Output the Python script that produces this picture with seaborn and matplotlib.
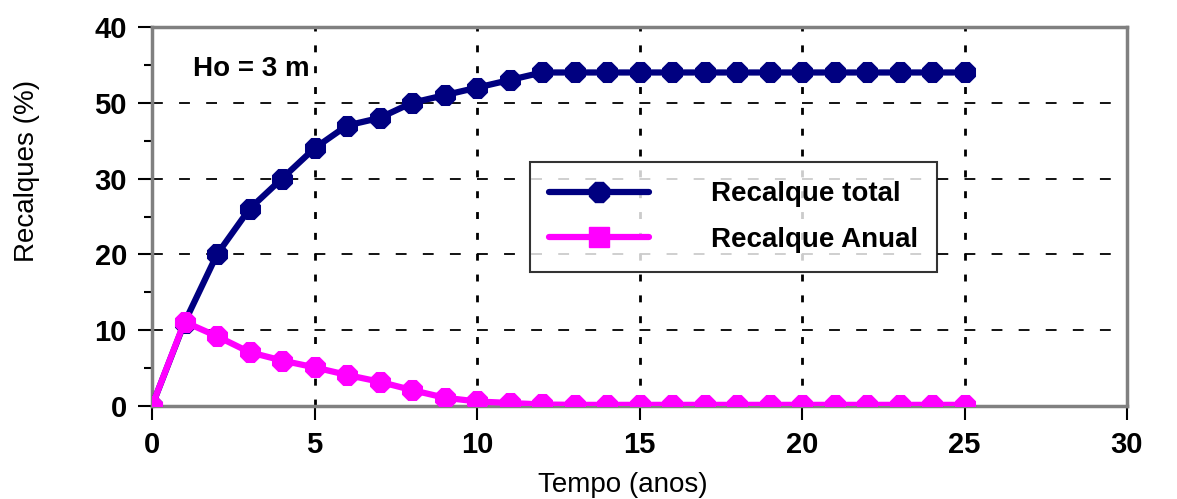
import matplotlib
matplotlib.use("Agg")
import matplotlib.pyplot as plt
import seaborn as sns
import pandas as pd
from matplotlib.ticker import MultipleLocator
from matplotlib.lines import Line2D

years = list(range(0, 26))
recalque_total = [0, 11, 20, 26, 30, 34, 37, 38, 40, 41, 42, 43, 44, 44, 44, 44, 44,
                  44, 44, 44, 44, 44, 44, 44, 44, 44]
recalque_anual = [0, 11.1, 9.2, 7.1, 6.0, 5.1, 4.1, 3.2, 2.1, 1.1, 0.6, 0.4, 0.2, 0.15,
                  0.15, 0.15, 0.15, 0.15, 0.15, 0.15, 0.15, 0.15, 0.15, 0.15, 0.15, 0.15]
y_ticks = [0, 10, 20, 30, 40, 50]
y_tick_labels = ["0", "10", "20", "30", "50", "40"]
x_ticks = [0, 5, 10, 15, 20, 25, 30]
x_tick_labels = ["0", "5", "10", "15", "20", "25", "30"]

sns.set_style("white")
plt.rcParams['font.family'] = ['Liberation Sans', 'DejaVu Sans']
plt.rcParams['text.color'] = 'black'
plt.rcParams['axes.labelcolor'] = 'black'
plt.rcParams['xtick.color'] = 'black'
plt.rcParams['ytick.color'] = 'black'

NAVY = "#000080"
MAG = "#FF00FF"

fig = plt.figure(figsize=(11.77, 4.99), dpi=100)
ax = fig.add_axes([152/1177, 1-406/499, (1127-152)/1177, (406-27)/499])

df = pd.DataFrame({"Tempo": years, "total": recalque_total, "anual": recalque_anual})

sns.lineplot(data=df, x="Tempo", y="total", ax=ax, color=NAVY, lw=4.5,
             marker="8", markersize=16, markeredgecolor=NAVY, zorder=4)
sns.lineplot(data=df, x="Tempo", y="anual", ax=ax, color=MAG, lw=4.5,
             marker="8", markersize=16, markeredgecolor=MAG, zorder=5)

ax.set_xlim(0, 30)
ax.set_ylim(0, 50)
ax.set_xticks(x_ticks)
ax.set_xticklabels(x_tick_labels, fontsize=21, fontweight="bold")
ax.set_yticks(y_ticks)
ax.set_yticklabels(y_tick_labels, fontsize=21, fontweight="bold")
ax.yaxis.set_minor_locator(MultipleLocator(5))
ax.tick_params(axis="both", which="major", direction="out", length=10, width=1.5,
               color="black", left=True, bottom=True, pad=8)
ax.tick_params(axis="y", which="minor", direction="out", length=6, width=1.5,
               color="black", left=True)

for y in [10, 20, 30, 40]:
    ax.axhline(y, color="black", lw=1.3, linestyle=(0, (6, 9)), zorder=1)
for x in [5, 10, 15, 20, 25]:
    ax.axvline(x, color="black", lw=2, linestyle=(0, (2.5, 5)), zorder=1)

for s in ax.spines.values():
    s.set_color("#808080")
    s.set_linewidth(2.5)
    s.set_visible(True)

ax.set_xlabel("Tempo (anos)", fontsize=20)
ax.set_ylabel("Recalques (%)", fontsize=20)
ax.xaxis.set_label_coords(0.483, -0.175)
ax.yaxis.set_label_coords(-0.115, 0.62)

ax.text(1.25, 44.5, "Ho = 3 m", fontsize=20, fontweight="bold", va="center")

handles = [
    Line2D([], [], color=NAVY, lw=4.5, marker="8", markersize=16, markeredgecolor=NAVY),
    Line2D([], [], color=MAG, lw=4.5, marker="s", markersize=14, markeredgecolor=MAG),
]
leg = ax.legend(handles, ["Recalque total", "Recalque Anual"],
                loc="upper left", bbox_to_anchor=((530-152)/975, (406-162)/379),
                frameon=True, fancybox=False, edgecolor="black", fontsize=20,
                handlelength=3.6, borderpad=0.7, labelspacing=0.7, handletextpad=2.2,
                borderaxespad=0)
leg.get_frame().set_linewidth(1.5)
for t in leg.get_texts():
    t.set_fontweight("bold")

fig.savefig("out.png", dpi=100)
